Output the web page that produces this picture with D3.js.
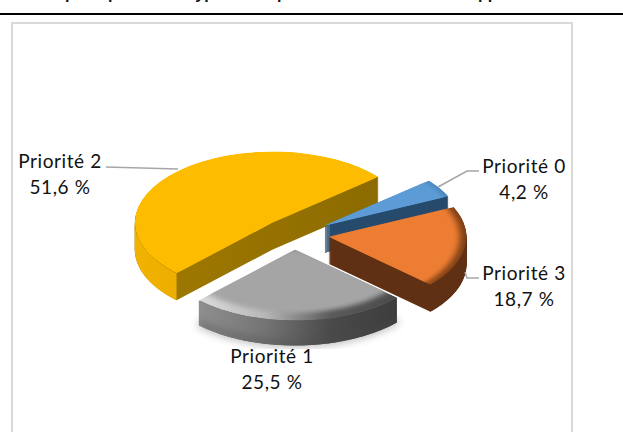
<!DOCTYPE html>
<html><head><meta charset="utf-8">
<style>html,body{margin:0;padding:0;background:#fff;overflow:hidden}svg{display:block}text{font-family:Lato,"Open Sans",sans-serif;fill:#111}</style>
<script src="https://cdn.jsdelivr.net/npm/d3@7/dist/d3.min.js"></script>
</head><body><script>
const categories=["Priorité 0","Priorité 3","Priorité 1","Priorité 2"];
const values=[4.2,18.7,25.5,51.6];
const valueLabels=["4,2 %","18,7 %","25,5 %","51,6 %"];
const titleWords=["Tickets","pour","priorité","type","et de","priorité dans le suivi des applications"];

const W=623,H=432,rx=138,ry=71,explode=37;
const cx=294,cy=233,startDeg=50;
const styles={
 "Priorité 0":{top:"#5b9bd5",wall:["#254a6b","#254a6b"],bevel:["#5b9bd5","#4a86bd"],rim:["#254a6b","#254a6b"],dx:-2,dy:3,depth:27,inset:5,blur:2.5},
 "Priorité 3":{top:"#ed7d31",wall:["#5f3013","#5f3013"],bevel:["#c96a28","#7d3f16"],rim:["#5f3013","#5f3013"],dx:-2,dy:1,depth:27,inset:7,blur:3.2},
 "Priorité 1":{top:"#a5a5a5",wall:["#666","#666"],bevel:["#dcdcdc","#b8b8b8","#5a5a5a","#4a4a4a"],rim:["#8f8f8f","#747474","#4a4a4a","#3d3d3d"],dx:0,dy:-2,depth:25,inset:15,blur:4,edge:"#4a4a4a"},
 "Priorité 2":{top:"#fdbc00",wall:["#a07a00","#8c6b00"],bevel:["#fdbc00","#fdbc00"],rim:["#f2b200","#d29b00"],dx:4,dy:3,depth:27,inset:4,blur:2}
};
const labelPos={
 "Priorité 0":{x:524,y:173,line:[[438,187],[467,171],[479,171]]},
 "Priorité 3":{x:524,y:280,line:[[465,272],[467,278],[479,278]]},
 "Priorité 1":{x:272,y:363,line:null},
 "Priorité 2":{x:60,y:168,line:[[106,167],[178,169]]}
};
const svg=d3.select("body").append("svg").attr("width",W).attr("height",H);
const defs=svg.append("defs");

// clipped title
svg.append("text").attr("y",-1).attr("font-size",16).attr("font-weight",700).style("font-family","'Liberation Sans',sans-serif")
 .selectAll("tspan").data(titleWords).join("tspan")
 .attr("x",(d,i)=>[2,65,108,190,235,277][i]).text(d=>d);
svg.append("line").attr("x1",0).attr("x2",W).attr("y1",14).attr("y2",14).attr("stroke","#000").attr("stroke-width",2);
svg.append("rect").attr("x",12).attr("y",23).attr("width",560).attr("height",H+20).attr("fill","#fff").attr("stroke","#d9d9d9").attr("stroke-width",2);

const pie=d3.pie().sort(null).value(d=>d).startAngle(startDeg*Math.PI/180).endAngle((startDeg+360)*Math.PI/180);
const arcs=pie(values).map((a,i)=>({...a,name:categories[i],label:valueLabels[i]}));
const sx=d3.scaleLinear().domain([-1,1]).range([-rx,rx]);
const sy=d3.scaleLinear().domain([-1,1]).range([-ry,ry]);
const project=(t,r,z=0)=>[sx(r*Math.sin(t)),sy(-r*Math.cos(t))+z];
const line=d3.line();

function gradient(id,x0,x1,cols){
 const g=defs.append("linearGradient").attr("id",id).attr("gradientUnits","userSpaceOnUse").attr("x1",x0).attr("x2",x1).attr("y1",0).attr("y2",0);
 cols.forEach((c,i)=>g.append("stop").attr("offset",i/(cols.length-1)).attr("stop-color",c));
 return `url(#${id})`;
}
const order=["Priorité 2","Priorité 0","Priorité 3","Priorité 1"];
const sliceArc=d3.arc().innerRadius(0);
order.forEach((name,k)=>{
 const a=arcs.find(d=>d.name===name),st=styles[name],depth=st.depth;
 const mid=(a.startAngle+a.endAngle)/2;
 const ox=cx+explode*Math.sin(mid)+st.dx,oy=cy-explode*0.5*Math.cos(mid)+st.dy;
 const g=svg.append("g").attr("transform",`translate(${ox},${oy})`);
 const xs=d3.range(0,41).map(i=>project(a.startAngle+(a.endAngle-a.startAngle)*i/40,1)[0]).concat(0);
 const x0=d3.min(xs),x1=d3.max(xs);
 defs.append("filter").attr("id","soft"+k).attr("x","-20%").attr("y","-20%").attr("width","140%").attr("height","140%")
  .append("feGaussianBlur").attr("stdDeviation",st.blur);
 // extruded cut faces
 const wall=gradient("w"+k,x0,x1,st.wall);
 d3.range(depth,0,-1).forEach(z=>{
  const layer=g.append("g").attr("transform",`translate(0,${z}) scale(1,${ry/rx})`);
  layer.append("path").attr("d",sliceArc.outerRadius(rx)({startAngle:a.startAngle,endAngle:a.endAngle})).attr("fill",wall);
 });
 // outer rim, only the part facing the viewer
 const lo=Math.max(a.startAngle,Math.PI/2),hi=Math.min(a.endAngle,Math.PI*1.5);
 if(lo<hi){
  const ts=d3.range(0,61).map(i=>lo+(hi-lo)*i/60);
  const pts=ts.map(t=>project(t,1)).concat(ts.slice().reverse().map(t=>project(t,1,depth)));
  g.append("path").attr("d",line(pts)+"Z").attr("fill",gradient("r"+k,x0,x1,st.rim));
  if(st.edge){
   g.append("path").attr("d",line(ts.map(t=>project(t,1,depth-2)))).attr("fill","none")
    .attr("stroke",st.edge).attr("stroke-width",4).attr("opacity",.7).attr("filter","url(#soft"+k+")");
  }
 }
 // top face with a soft bevel
 const id="c"+k;
 const top=g.append("g").attr("transform",`scale(1,${ry/rx})`);
 defs.append("clipPath").attr("id",id).append("path").attr("d",sliceArc.outerRadius(rx)({startAngle:a.startAngle,endAngle:a.endAngle}));
 const inner=top.append("g").attr("clip-path",`url(#${id})`);
 inner.append("path").attr("d",sliceArc.outerRadius(rx)({startAngle:a.startAngle,endAngle:a.endAngle})).attr("fill",gradient("b"+k,x0,x1,st.bevel));
 inner.append("path").attr("d",sliceArc.outerRadius(rx-st.inset)({startAngle:a.startAngle-.3,endAngle:a.endAngle+.3})).attr("fill",st.top).attr("filter","url(#soft"+k+")");
});

// leader lines and labels
arcs.forEach(a=>{
 const p=labelPos[a.name];
 if(p.line) svg.append("path").attr("d",line(p.line)).attr("fill","none").attr("stroke","#a6a6a6").attr("stroke-width",1.5);
 const t=svg.append("text").attr("text-anchor","middle").attr("font-size",19).attr("letter-spacing",0.6);
 t.append("tspan").attr("x",p.x).attr("y",p.y).text(a.name);
 t.append("tspan").attr("x",p.x).attr("y",p.y+26).text(a.label);
});
</script></body></html>
